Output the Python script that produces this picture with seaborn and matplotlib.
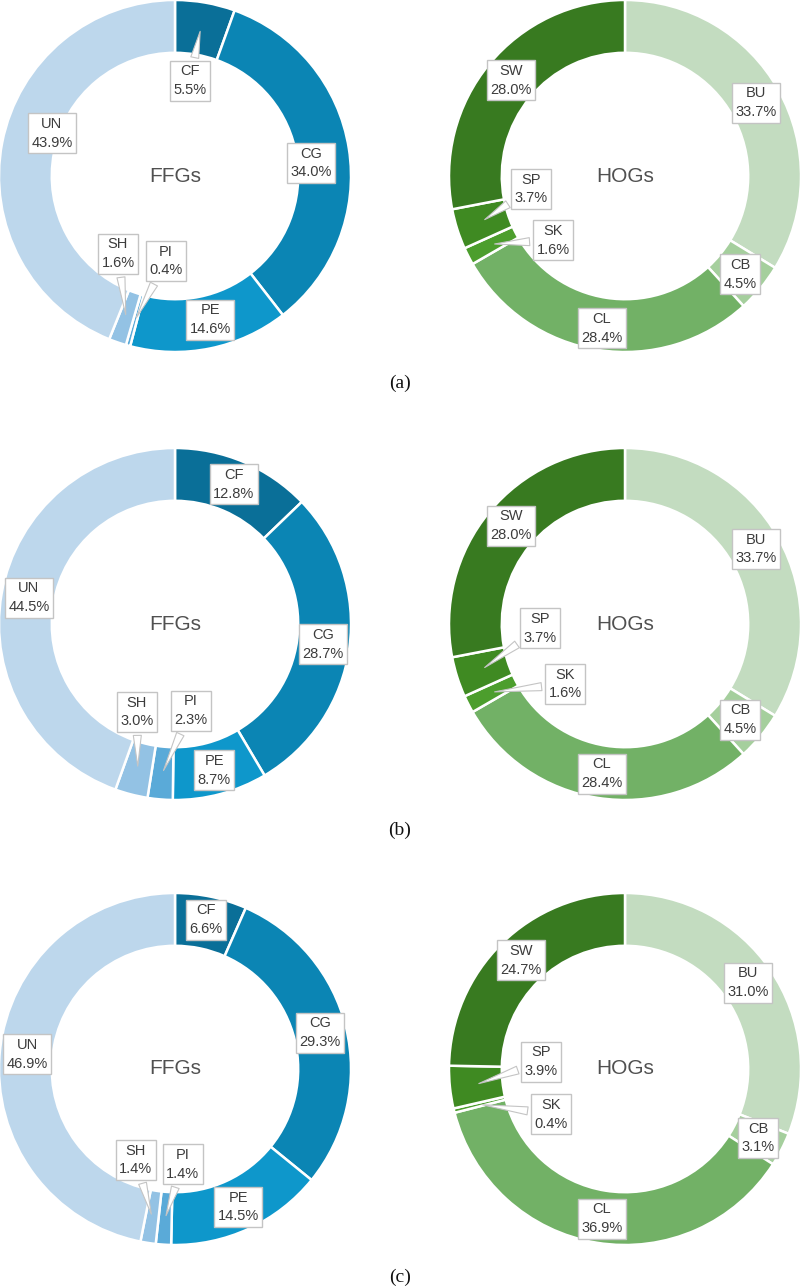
"""Donut charts of FFG and HOG composition for three sites."""

import matplotlib

matplotlib.use("Agg")
import matplotlib.pyplot as plt
import numpy as np
import seaborn as sns

# ---- data -------------------------------------------------------------
ffg_labels = ["CF", "CG", "PE", "PI", "SH", "UN"]
ffg_a = [5.5, 34.0, 14.6, 0.4, 1.6, 43.9]
ffg_b = [12.8, 28.7, 8.7, 2.3, 3.0, 44.5]
ffg_c = [6.6, 29.3, 14.5, 1.4, 1.4, 46.9]

hog_labels = ["BU", "CB", "CL", "SK", "SP", "SW"]
hog_a = [33.7, 4.5, 28.4, 1.6, 3.7, 28.0]
hog_b = [33.7, 4.5, 28.4, 1.6, 3.7, 28.0]
hog_c = [31.0, 3.1, 36.9, 0.4, 3.9, 24.7]

panel_tags = ["(a)", "(b)", "(c)"]

ffg_colors = ["#0a6f98", "#0b85b4", "#0e97cb", "#5aaad8", "#93c2e4", "#bdd7ec"]
hog_colors = ["#c3dcc0", "#a5cf9d", "#72b166", "#4c9e2d", "#3f8a22", "#387a20"]

# ---- layout (label box centres in radius units, callout flags) ---------
ffg_pos = [
    [(0.085, 0.54), (0.773, 0.074), (0.199, -0.818), (-0.051, -0.483), (-0.324, -0.443), (-0.699, 0.244)],
    [(0.335, 0.795), (0.841, -0.114), (0.222, -0.83), (0.091, -0.494), (-0.216, -0.5), (-0.83, 0.148)],
    [(0.176, 0.847), (0.824, 0.205), (0.358, -0.784), (0.045, -0.54), (-0.222, -0.517), (-0.84, 0.085)],
]
ffg_call = [
    [True, False, False, True, True, False],
    [False, False, False, True, True, False],
    [False, False, False, True, True, False],
]
hog_pos = [
    [(0.744, 0.415), (0.653, -0.557), (-0.131, -0.864), (-0.409, -0.364), (-0.534, -0.074), (-0.648, 0.545)],
    [(0.744, 0.426), (0.653, -0.545), (-0.131, -0.852), (-0.341, -0.341), (-0.483, -0.023), (-0.648, 0.557)],
    [(0.699, 0.489), (0.756, -0.392), (-0.131, -0.852), (-0.42, -0.256), (-0.477, 0.04), (-0.591, 0.619)],
]
hog_call = [[False, False, False, True, True, False]] * 3

centres_y = [176, 624, 1069]
tag_y = [383, 830, 1277]
W, H, R = 800, 1288, 176

sns.set_theme(style="white")
plt.rcParams["font.family"] = ["Liberation Sans", "DejaVu Sans"]

fig = plt.figure(figsize=(W / 100, H / 100), dpi=100)


def donut(cx, cy, values, labels, colors, positions, callouts, title):
    ax = fig.add_axes([(cx - R) / W, (H - cy - R) / H, 2 * R / W, 2 * R / H])
    ax.pie(
        values,
        colors=colors,
        startangle=90,
        counterclock=False,
        radius=1.0,
        wedgeprops=dict(width=0.3, edgecolor="white", linewidth=1.8),
    )
    ax.set_xlim(-1, 1)
    ax.set_ylim(-1, 1)
    ax.set_aspect("equal")
    ax.axis("off")
    ax.text(0, 0, title, ha="center", va="center", fontsize=15, color="#505050")

    total = float(np.sum(values))
    cum = np.cumsum(values) - np.asarray(values) / 2
    box = dict(boxstyle="square,pad=0.25", fc="white", ec="#c4c4c4", lw=1.0)
    style = dict(ha="center", va="center", fontsize=10.5, color="#3c3c3c", linespacing=1.45, bbox=box)
    for lab, v, c, (px, py), call in zip(labels, values, cum, positions, callouts):
        text = f"{lab}\n{v:.1f}%"
        if call:
            ang = np.deg2rad(90 - c / total * 360)
            tip = (0.85 * np.cos(ang), 0.85 * np.sin(ang))
            ax.annotate(
                text, xy=tip, xytext=(px, py), annotation_clip=False,
                arrowprops=dict(arrowstyle="wedge,tail_width=0.55,shrink_factor=0.5",
                                fc="white", ec="#c4c4c4", lw=0.8),
                **style,
            )
        else:
            ax.text(px, py, text, clip_on=False, **style)


ffg_sets = [ffg_a, ffg_b, ffg_c]
hog_sets = [hog_a, hog_b, hog_c]
for i in range(3):
    donut(175, centres_y[i], ffg_sets[i], ffg_labels, ffg_colors, ffg_pos[i], ffg_call[i], "FFGs")
    donut(625, centres_y[i], hog_sets[i], hog_labels, hog_colors, hog_pos[i], hog_call[i], "HOGs")
    fig.text(0.5, 1 - tag_y[i] / H, panel_tags[i], ha="center", va="center",
             fontsize=14, color="#111111", family=["Liberation Serif", "DejaVu Serif"])

fig.savefig("out.png", dpi=100)
